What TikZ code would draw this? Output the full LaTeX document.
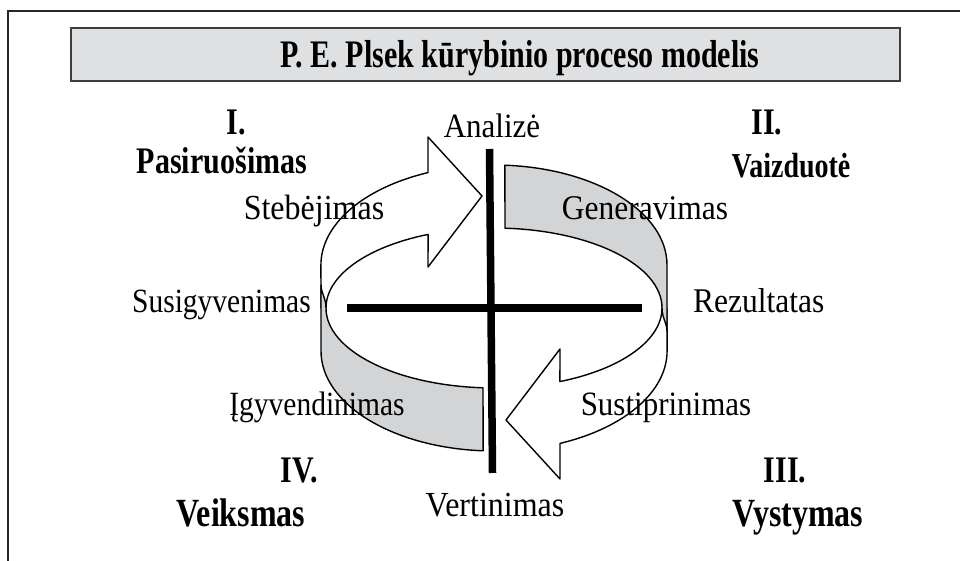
\documentclass[tikz,border=0pt]{standalone}
\usepackage{fontspec}
\setmainfont{Liberation Serif}
\definecolor{bandgray}{RGB}{211,212,214}
\definecolor{titlegray}{RGB}{223,224,226}
\definecolor{edgegray}{RGB}{62,62,62}
\newcommand\vstretch[2]{\scalebox{1}[#1]{#2}}
\tikzset{
  ribbon/.style={draw=black, line width=1.4pt, line join=round},
  whitepart/.style={ribbon, fill=white},
  graypart/.style={ribbon, fill=bandgray},
  thickbar/.style={draw=black, line width=7.5pt},
  lbl/.style={inner sep=0pt, font=\fontsize{#1}{34}\selectfont, anchor=base},
  lbl/.default=31,
  phase/.style={inner sep=0pt, font=\bfseries\fontsize{#1}{34}\selectfont, anchor=base},
  phase/.default=30,
}
\begin{document}
\begin{tikzpicture}[x=1pt,y=1pt]
\useasboundingbox (0,0) rectangle (960,561);
% outer frame
\draw[line width=1.5pt, draw=black!85] (8,0) -- (8,550) -- (960,550);
% title
\draw[draw=edgegray, line width=2.8pt, fill=titlegray] (71,480) rectangle (900,533);
\node[inner sep=0pt, font=\bfseries\fontsize{30}{36}\selectfont, anchor=base] (title) at (520,493) {\vstretch{1.3}{P. E. Plsek kūrybinio proceso modelis}};
% white arrows
\draw[whitepart] (482,365) -- (428,424) -- (428,388.4)
  arc[start angle=112.4, end angle=180, x radius=173pt, y radius=100pt]
  -- (321,253) -- (326,253)
  arc[start angle=180, end angle=113.1, x radius=168pt, y radius=80pt]
  -- (428,294) -- cycle;
\draw[whitepart] (506,141) -- (560,82) -- (560,117.6)
  arc[start angle=292.4, end angle=360, x radius=173pt, y radius=100pt]
  -- (667,253) -- (662,253)
  arc[start angle=0, end angle=-66.9, x radius=168pt, y radius=80pt]
  -- (560,212) -- cycle;
% gray bands
\draw[graypart] (321,276) -- (321,210)
  arc[start angle=180, end angle=266.4, x radius=173pt, y radius=100pt]
  -- (483,173.2)
  arc[start angle=266.25, end angle=180, x radius=168pt, y radius=80pt]
  .. controls (326,263) and (321,268) .. cycle;
\draw[graypart] (667,230) -- (667,296)
  arc[start angle=0, end angle=86.4, x radius=173pt, y radius=100pt]
  -- (505,332.8)
  arc[start angle=86.25, end angle=0, x radius=168pt, y radius=80pt]
  .. controls (662,243) and (667,238) .. cycle;
% cross
\coordinate (vtop) at (489.5,412);
\coordinate (vbot) at (492.5,88);
\coordinate (hl) at (347,253);
\coordinate (hr) at (642,253);
\draw[thickbar] (vtop) -- (vbot);
\draw[thickbar] (hl) -- (hr);
% labels
\node[lbl=31] (analize) at (492,423) {\vstretch{1.1}{Analizė}};
\node[lbl=32] (stebejimas) at (314,341) {\vstretch{1.1}{Stebėjimas}};
\node[lbl=31.5] (generavimas) at (645,341) {\vstretch{1.1}{Generavimas}};
\node[lbl=29.5, anchor=base east] (susig) at (311,248) {\vstretch{1.15}{Susigyvenimas}};
\node[lbl=31.5, anchor=base west] (rezult) at (693,248) {\vstretch{1.1}{Rezultatas}};
\node[lbl=29.5] (igyv) at (317,145) {\vstretch{1.15}{Įgyvendinimas}};
\node[lbl=31] (sustip) at (666,145) {\vstretch{1.1}{Sustiprinimas}};
\node[lbl=32] (vert) at (495,44) {\vstretch{1.1}{Vertinimas}};
% phases
\node[phase] (p1a) at (236,426) {\vstretch{1.25}{I.}};
\node[phase] (p1b) at (222,387) {\vstretch{1.25}{Pasiruošimas}};
\node[phase] (p2a) at (767,426) {\vstretch{1.25}{II.}};
\node[phase=28] (p2b) at (791,383) {\vstretch{1.25}{Vaizduotė}};
\node[phase] (p4a) at (299,78) {\vstretch{1.25}{IV.}};
\node[phase=32] (p4b) at (241,34) {\vstretch{1.25}{Veiksmas}};
\node[phase] (p3a) at (785,78) {\vstretch{1.25}{III.}};
\node[phase=32] (p3b) at (798,34) {\vstretch{1.25}{Vystymas}};
\end{tikzpicture}
\end{document}
